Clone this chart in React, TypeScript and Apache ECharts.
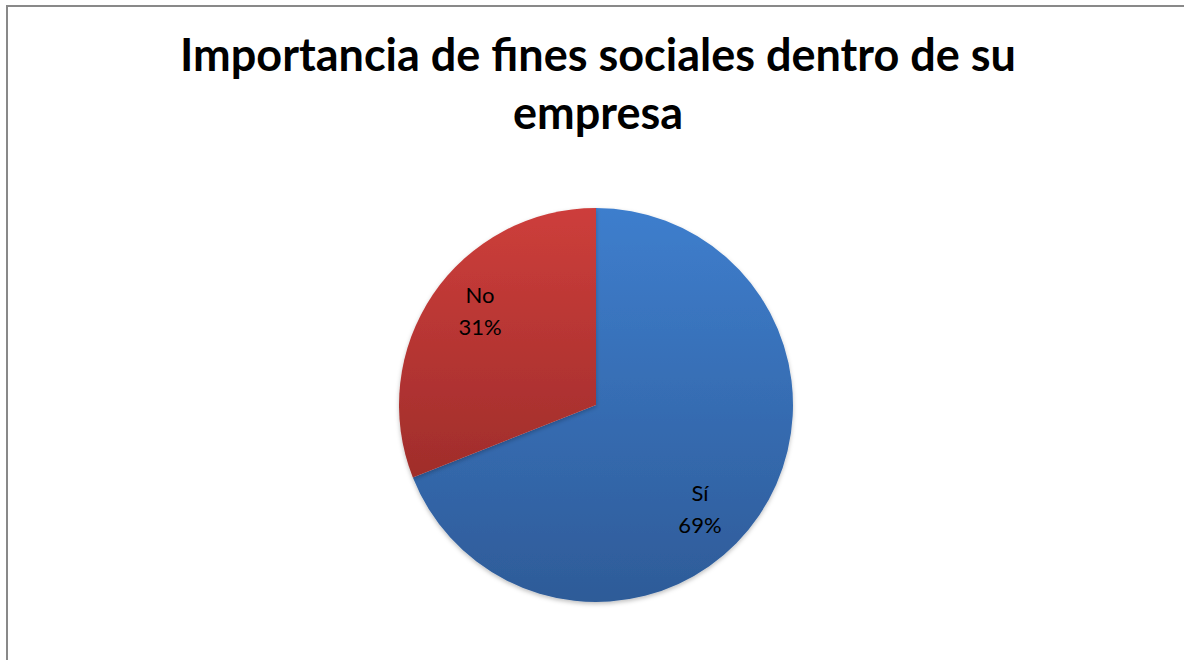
import React, { useEffect, useRef } from "react";
import * as echarts from "echarts";

const titleLines = ["Importancia de fines sociales dentro de su", "empresa"];
const categories = ["Sí", "No"];
const values = [69, 31];
const topColors = ["#3E7ECD", "#CD3E3B"];
const bottomColors = ["#2E5B98", "#A02D2B"];
const labelShift = [
  [20, 46],
  [-32, -37],
];

export default function App() {
  const ref = useRef<HTMLDivElement>(null);
  useEffect(() => {
    const chart = echarts.init(ref.current!, null, { renderer: "svg" });
    chart.setOption({
      animation: false,
      backgroundColor: "#ffffff",
      title: {
        text: titleLines.join("\n"),
        left: 593,
        top: 20,
        textAlign: "center",
        textStyle: {
          fontFamily: "Lato",
          fontWeight: "bold",
          fontSize: 45,
          lineHeight: 58,
          color: "#000000",
        },
      },
      graphic: [
        {
          type: "rect",
          shape: { x: 7, y: 6, width: 1300, height: 800 },
          style: { fill: "none", stroke: "#898989", lineWidth: 2 },
          silent: true,
        },
      ],
      series: [
        {
          type: "pie",
          center: [596, 405],
          radius: 197,
          startAngle: 90,
          clockwise: true,
          silent: true,
          label: {
            show: true,
            position: "inside",
            formatter: "{b}\n{d}%",
            fontFamily: "Lato",
            fontSize: 22,
            lineHeight: 32,
            color: "#000000",
          },
          labelLine: { show: false },
          labelLayout: (params: any) => ({
            dx: labelShift[params.dataIndex][0],
            dy: labelShift[params.dataIndex][1],
          }),
          data: categories.map((name, i) => ({
            name,
            value: values[i],
            itemStyle: {
              color: new echarts.graphic.LinearGradient(0, 0, 0, 1, [
                { offset: 0, color: topColors[i] },
                { offset: 1, color: bottomColors[i] },
              ]),
              shadowBlur: 4,
              shadowOffsetY: 2,
              shadowColor: "rgba(0,0,0,0.25)",
            },
          })),
        },
      ],
    });
    return () => chart.dispose();
  }, []);
  return (
    <div
      ref={ref}
      style={{ position: "absolute", left: 0, top: 0, width: 1184, height: 660 }}
    />
  );
}
